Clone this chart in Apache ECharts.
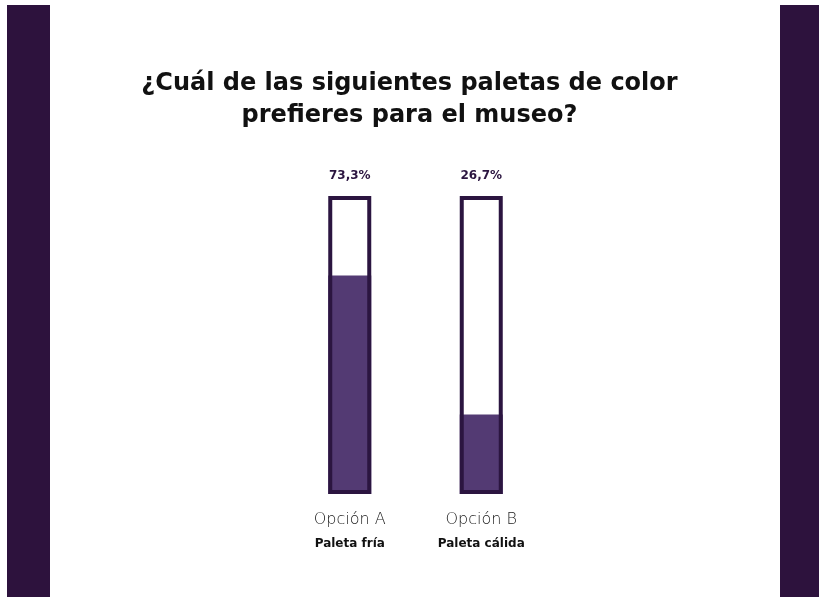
<!DOCTYPE html>
<html><head><meta charset="utf-8">
<script src="https://cdn.jsdelivr.net/npm/echarts@6/dist/echarts.min.js"></script>
<style>html,body{margin:0;padding:0;background:#fff}#c{width:819px;height:597px}</style>
</head><body><div id="c"></div>
<script>
const categories = ['Opción A', 'Opción B'];
const subLabels = ['Paleta fría', 'Paleta cálida'];
const values = [73.3, 26.7];
const valueLabels = ['73,3%', '26,7%'];
const fullScale = [100, 100];

const chart = echarts.init(document.getElementById('c'));
chart.setOption({
  backgroundColor: '#ffffff',
  animation: false,
  graphic: [
    {type: 'rect', left: 7, top: 5, shape: {width: 43, height: 600}, style: {fill: '#2d123d'}},
    {type: 'rect', left: 780, top: 5, shape: {width: 45, height: 600}, style: {fill: '#2d123d'}}
  ],
  title: {
    text: '¿Cuál de las siguientes paletas de color\nprefieres para el museo?',
    left: 'center', top: 63,
    textStyle: {fontFamily: 'DejaVu Sans', fontWeight: 'bold', fontSize: 24, lineHeight: 32, color: '#111111'}
  },
  grid: {left: 284, width: 263, top: 196, bottom: 103},
  xAxis: {
    type: 'category', data: categories,
    axisLine: {show: false}, axisTick: {show: false},
    axisLabel: {
      margin: 14, interval: 0,
      formatter: function (v, i) { return v + '\n{b|' + subLabels[i] + '}'; },
      fontFamily: 'DejaVu Sans', fontWeight: 'lighter', fontSize: 16, color: '#1a1a1a', lineHeight: 24,
      rich: {b: {fontFamily: 'DejaVu Sans', fontWeight: 'bold', fontSize: 12, color: '#111111', lineHeight: 24}}
    }
  },
  yAxis: {type: 'value', min: 0, max: 100, show: false, splitLine: {show: false}},
  series: [
    {
      type: 'bar', data: values, barWidth: 43, z: 2,
      itemStyle: {color: '#533a73'}
    },
    {
      type: 'bar', data: fullScale, barWidth: 43, barGap: '-100%', z: 3,
      itemStyle: {color: 'rgba(0,0,0,0)', borderColor: '#2b1540', borderWidth: 4},
      label: {
        show: true, position: 'top', distance: 14,
        formatter: function (p) { return valueLabels[p.dataIndex]; },
        fontFamily: 'DejaVu Sans', fontWeight: 'bold', fontSize: 12, color: '#2b1540'
      }
    }
  ]
});
</script></body></html>
